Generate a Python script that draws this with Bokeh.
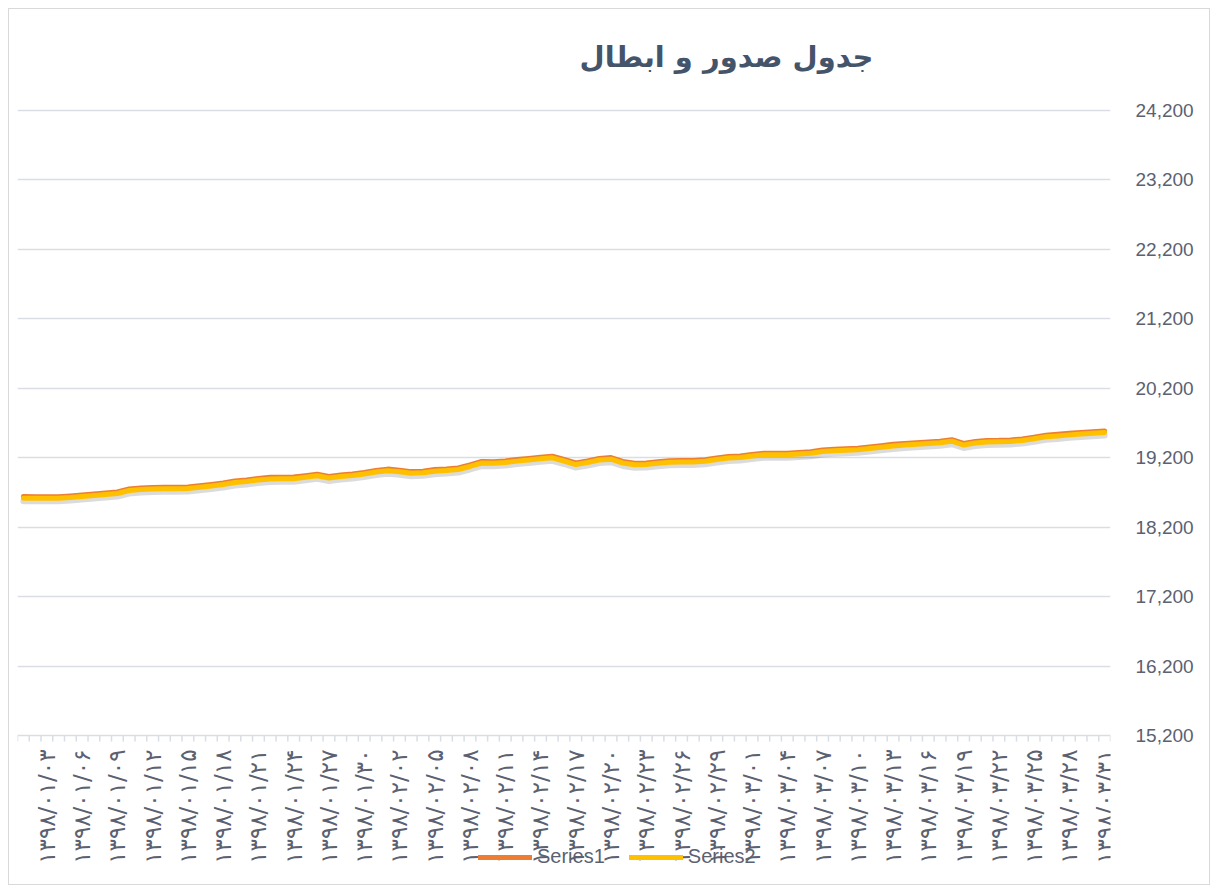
import math
from bokeh.plotting import figure
from bokeh.models import (Range1d, FixedTicker, NumeralTickFormatter, LinearAxis,
                          Label, ColumnDataSource, Legend, LegendItem)
from bokeh.core.properties import value
from bokeh.embed import file_html
from bokeh.resources import INLINE

# ---------------- data ----------------
title_text = "جدول صدور و ابطال"
series_names = ["Series1", "Series2"]

persian_digits = "۰۱۲۳۴۵۶۷۸۹"
year = "1398"
months = [1, 2, 3]
days_in_month = [31, 31, 31]

series1 = [18640, 18638, 18639, 18638, 18650, 18664, 18679, 18692, 18707, 18750,
           18765, 18772, 18775, 18774, 18780, 18796, 18815, 18837, 18865, 18881,
           18901, 18918, 18919, 18921, 18940, 18962, 18931, 18952, 18967, 18988,
           19016, 19036, 19021, 19000, 19006, 19029, 19038, 19053, 19096, 19147,
           19142, 19154, 19173, 19189, 19208, 19222, 19176, 19124, 19154, 19189,
           19202, 19146, 19121, 19124, 19143, 19156, 19160, 19160, 19171, 19196,
           19218, 19225, 19248, 19264, 19265, 19264, 19277, 19287, 19313, 19322,
           19330, 19336, 19356, 19374, 19393, 19404, 19416, 19427, 19439, 19460,
           19406, 19434, 19449, 19451, 19457, 19470, 19497, 19523, 19537, 19551,
           19563, 19575, 19586]

series2 = [18617, 18616, 18616, 18616, 18627, 18642, 18656, 18670, 18685, 18728,
           18742, 18750, 18752, 18752, 18757, 18774, 18793, 18814, 18843, 18858,
           18879, 18895, 18897, 18898, 18918, 18940, 18908, 18930, 18944, 18966,
           18994, 19013, 18999, 18977, 18984, 19006, 19016, 19030, 19074, 19124,
           19120, 19131, 19151, 19166, 19186, 19199, 19153, 19102, 19131, 19167,
           19179, 19124, 19098, 19102, 19120, 19134, 19137, 19138, 19148, 19174,
           19195, 19203, 19225, 19242, 19242, 19242, 19254, 19265, 19290, 19300,
           19307, 19314, 19333, 19352, 19370, 19382, 19393, 19405, 19416, 19438,
           19383, 19412, 19426, 19429, 19434, 19448, 19474, 19501, 19514, 19529,
           19540, 19552, 19563]

y_ticks = [15200, 16200, 17200, 18200, 19200, 20200, 21200, 22200, 23200, 24200]


def fa(s):
    return "".join(persian_digits[int(c)] if c.isdigit() else c for c in s)


dates = []
for m, nd in zip(months, days_in_month):
    for d in range(1, nd + 1):
        dates.append(fa(f"{year}/{m:02d}/{d:02d}"))

x = list(range(len(series2)))
label_idx = list(range(2, len(x), 3))

# ---------------- layout (pixels) ----------------
W, H = 1202, 877
FRAME_LEFT, FRAME_RIGHT_BORDER = 8, 101
TOP_GRID_PX, BOTTOM_GRID_PX = 101, 726      # canvas rows of top / bottom gridline
ppu = (BOTTOM_GRID_PX - TOP_GRID_PX) / (y_ticks[-1] - y_ticks[0])   # px per unit
y_start = y_ticks[0] - (H - BOTTOM_GRID_PX) / ppu
y_end = y_ticks[-1] + TOP_GRID_PX / ppu

GRID = "#dadde3"
TXT = "#5b6170"
COLORS = ["#ED7D31", "#FFC000"]

p = figure(width=W, height=H, output_backend="svg", toolbar_location=None,
           x_range=Range1d(-0.5, len(x) - 0.5),
           y_range=Range1d(y_start, y_end),
           x_axis_location=None, y_axis_location=None,
           min_border_left=FRAME_LEFT, min_border_right=FRAME_RIGHT_BORDER,
           min_border_top=0, min_border_bottom=0)
p.background_fill_color = "white"
p.border_fill_color = "white"
p.outline_line_color = None
p.margin = (8, 0, 0, 8)
p.styles = {"border": "1px solid #d9d9d9"}

# right y axis (labels only)
ya = LinearAxis(ticker=FixedTicker(ticks=y_ticks), formatter=NumeralTickFormatter(format="0,0"))
ya.axis_line_color = None
ya.major_tick_line_color = None
ya.minor_tick_line_color = None
ya.major_label_standoff = 19
ya.major_label_text_font = "Liberation Sans"
ya.major_label_text_font_size = "19px"
ya.major_label_text_color = TXT
p.add_layout(ya, "right")

p.ygrid.ticker = FixedTicker(ticks=y_ticks)
p.ygrid.grid_line_color = GRID
p.ygrid.grid_line_width = 1.5
p.xgrid.grid_line_color = None

# category boundary tick marks under the baseline
tick_len = 6 / ppu
bounds = [i - 0.5 for i in range(len(x) + 1)]
p.segment(x0=bounds, x1=bounds, y0=[y_ticks[0]] * len(bounds),
          y1=[y_ticks[0] - tick_len] * len(bounds), line_color=GRID, line_width=1.5)

# rotated date labels (read bottom to top, end at the axis)
lab_src = ColumnDataSource(dict(x=label_idx, y=[y_ticks[0]] * len(label_idx),
                                t=[dates[i] for i in label_idx]))
p.text(x="x", y="y", text="t", source=lab_src, angle=math.pi / 2,
       text_align="right", text_baseline="middle", y_offset=14,
       text_font=value("DejaVu Sans"), text_font_size="23px", text_color=TXT)

# shadow range (a few px lower)
shift = 3.0 / ppu
p.extra_y_ranges = {"shadow": Range1d(y_start + shift, y_end + shift)}

src = ColumnDataSource(dict(x=x, s1=series1, s2=series2))
p.line("x", "s2", source=src, y_range_name="shadow", line_color="#000000",
       line_alpha=0.14, line_width=6, line_join="round", line_cap="round")
r1 = p.line("x", "s1", source=src, line_color=COLORS[0], line_width=5,
            line_join="round", line_cap="round")
r2 = p.line("x", "s2", source=src, line_color=COLORS[1], line_width=5,
            line_join="round", line_cap="round")

legend = Legend(items=[LegendItem(label=series_names[0], renderers=[r1]),
                       LegendItem(label=series_names[1], renderers=[r2])],
                orientation="horizontal", location=(461, 18))
legend.background_fill_alpha = 0
legend.border_line_color = None
legend.padding = 0
legend.margin = 0
legend.spacing = 24
legend.glyph_width = 54
legend.glyph_height = 20
legend.label_height = 20
legend.label_standoff = 5
legend.label_text_font = "Liberation Sans"
legend.label_text_font_size = "20px"
legend.label_text_color = TXT
p.add_layout(legend, "center")

title = Label(x=709, y=H - 47, x_units="screen", y_units="screen", text=title_text,
              text_align="center", text_baseline="middle",
              text_font="DejaVu Sans", text_font_style="bold",
              text_font_size="29px", text_color="#44546A")
p.add_layout(title)

open("out.html", "w").write(file_html(p, INLINE))
